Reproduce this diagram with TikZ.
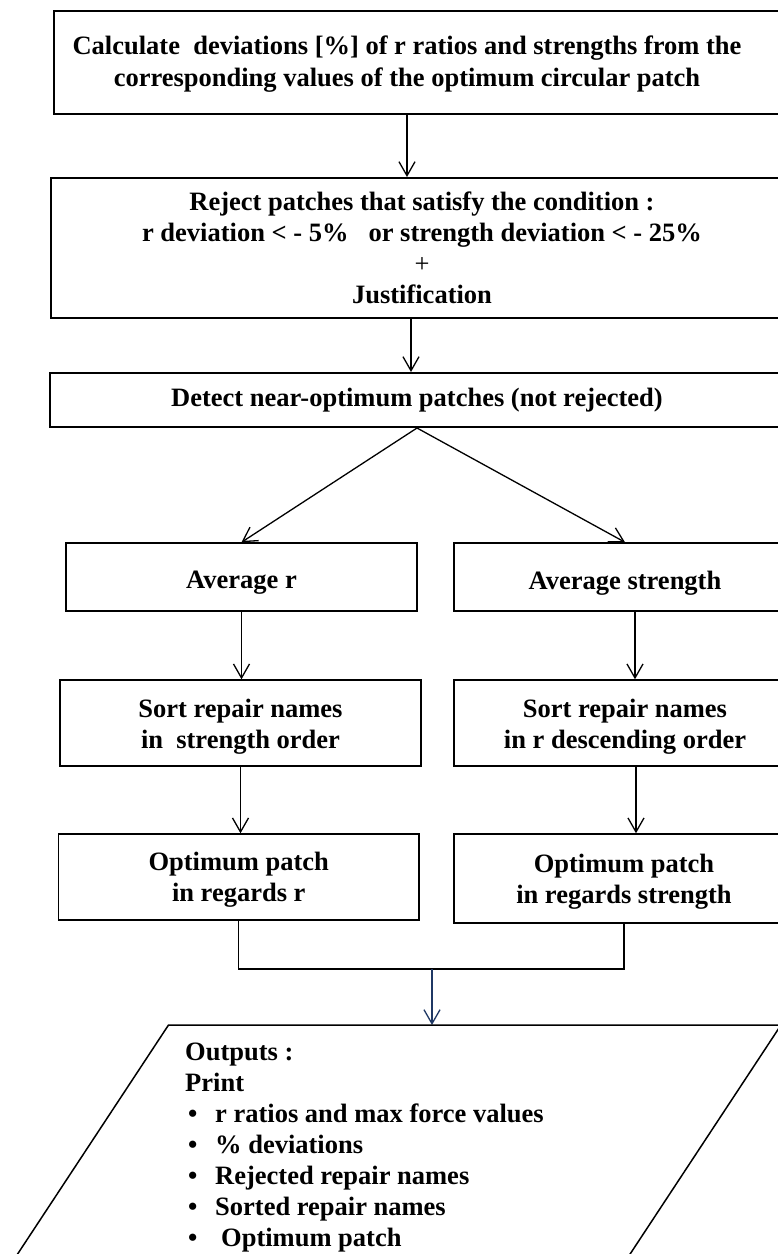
\documentclass[tikz,border=0pt]{standalone}
\usepackage{fontspec}
\setmainfont{Liberation Serif}
\usetikzlibrary{arrows.meta,calc}
\definecolor{navy}{RGB}{31,56,100}
\tikzset{
  flowtext/.style={font=\fontsize{26.5}{31}\selectfont\bfseries, align=center, inner sep=0pt},
  bigbox/.style={draw, line width=2pt},
  smallbox/.style={draw, line width=1.5pt},
  link/.style={line width=1.3pt},
  arr/.style={link, -{Straight Barb[length=14pt,width=16pt]}},
}
\begin{document}
\begin{tikzpicture}[x=1pt,y=-1pt]
\useasboundingbox (0,0) rectangle (778,1254);
\fill[white] (0,0) rectangle (778,1254);
\clip (0,0) rectangle (778,1254);

% main column (boxes run on past the right edge)
\node[bigbox, minimum width=746.5pt, minimum height=103pt] (calc) at (426.75,62.5) {};
\node[flowtext, font=\fontsize{26.5}{32}\selectfont\bfseries] (calc-t) at ([xshift=-19.75pt,yshift=-2pt]calc.center)
  {Calculate\ \ deviations [\%] of r ratios and strengths from the\\corresponding values of the optimum circular patch};
\node[bigbox, minimum width=742pt, minimum height=140pt] (reject) at (422,248) {};
\node[flowtext] (reject-t) at (reject.center)
  {Reject patches that satisfy the condition :\\r deviation < - 5\%\hspace{20pt}or strength deviation < - 25\%\\\textmd{+}\\Justification};
\node[bigbox, minimum width=734pt, minimum height=54pt] (detect) at (417,400) {};
\node[flowtext] (detect-t) at (detect.center) {Detect near-optimum patches (not rejected)};

% two branches
\node[smallbox, minimum width=351pt, minimum height=68pt] (avgr) at (241.5,577) {};
\node[flowtext] (avgr-t) at ([yshift=-6pt]avgr.center) {Average r};
\node[smallbox, minimum width=342pt, minimum height=68pt] (avgs) at (625,577) {};
\node[flowtext] (avgs-t) at ([yshift=-6pt]avgs.center) {Average strength};
\node[smallbox, minimum width=361pt, minimum height=86pt] (sortl) at (240.5,723) {};
\node[flowtext] (sortl-t) at ([yshift=-4pt]sortl.center) {Sort repair names\\in\ \ strength order};
\node[smallbox, minimum width=342pt, minimum height=86pt] (sortr) at (625,723) {};
\node[flowtext] (sortr-t) at ([yshift=-4pt]sortr.center) {Sort repair names\\in r descending order};
\node[smallbox, minimum width=360.5pt, minimum height=86pt] (optl) at (238.75,877) {};
\node[flowtext] (optl-t) at ([yshift=-3pt]optl.center) {Optimum patch\\in regards r};
\node[smallbox, minimum width=340pt, minimum height=89pt] (optr) at (624,878.5) {};
\node[flowtext] (optr-t) at ([yshift=-3pt]optr.center) {Optimum patch\\in regards strength};

% connectors
\draw[arr] (calc-t |- calc.south) -- (calc-t |- reject.north);
\draw[arr] ([xshift=-11pt]reject.south) -- ([xshift=-11pt]reject.south |- detect.north);
\draw[arr] (detect.south) -- (avgr.north);
\draw[arr] (detect.south) -- (avgs.north);
\draw[arr] (avgr.south) -- (avgr.south |- sortl.north);
\draw[arr] ([xshift=10pt]avgs.south) -- ([xshift=10pt]avgs.south |- sortr.north);
\draw[arr] (sortl.south) -- (sortl.south |- optl.north);
\draw[arr] ([xshift=11pt]sortr.south) -- ([xshift=11pt]sortr.south |- optr.north);
\coordinate (merge) at (432,969);
\draw[link] (optl.south) |- (merge) -| (optr.south);

% output parallelogram
\coordinate (pg-tl) at (168.5,1025);
\coordinate (pg-tr) at (781,1025);
\coordinate (out-top) at (432,1025);
\draw[arr, navy] (merge) -- (out-top);
\draw[line width=1.5pt] (-12.7,1300) -- (pg-tl) -- (pg-tr) -- (599.8,1300);
\node[anchor=north west, inner sep=0pt, align=left, font=\fontsize{26.5}{31}\selectfont\bfseries] (outputs) at (185,1042.5)
  {Outputs :\\Print\\
   \hspace*{3pt}\makebox[27pt][l]{•}r ratios and max force values\\
   \hspace*{3pt}\makebox[27pt][l]{•}\% deviations\\
   \hspace*{3pt}\makebox[27pt][l]{•}Rejected repair names\\
   \hspace*{3pt}\makebox[27pt][l]{•}Sorted repair names\\
   \hspace*{3pt}\makebox[27pt][l]{•}\hspace*{6pt}Optimum patch};
\end{tikzpicture}
\end{document}
